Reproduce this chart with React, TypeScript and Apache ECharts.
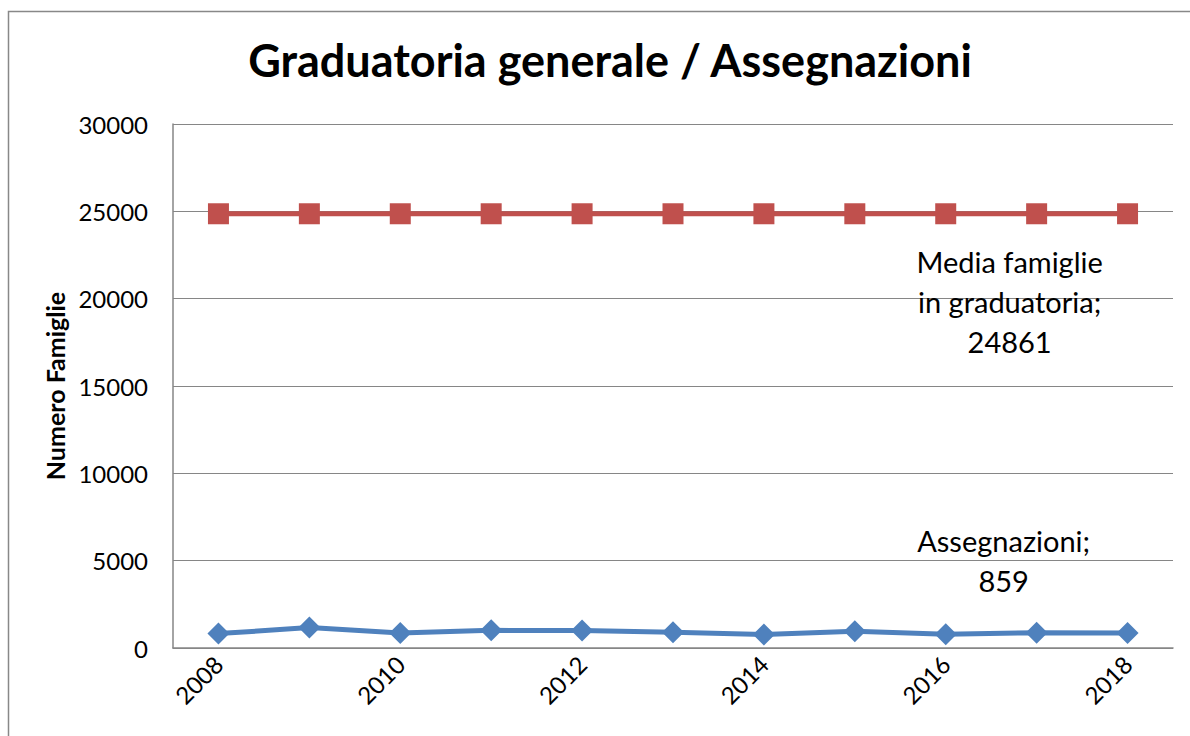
import React, { useEffect, useRef } from "react";
import * as echarts from "echarts";

const years = ["2008", "2009", "2010", "2011", "2012", "2013", "2014", "2015", "2016", "2017", "2018"];
const mediaGraduatoria = [24861, 24861, 24861, 24861, 24861, 24861, 24861, 24861, 24861, 24861, 24861];
const assegnazioni = [824, 1167, 858, 1012, 995, 906, 766, 955, 784, 880, 859];
const yTicks = { min: 0, max: 30000, interval: 5000 };

const FONT = "Lato";

export default function App() {
  const ref = useRef<HTMLDivElement>(null);
  useEffect(() => {
    const chart = echarts.init(ref.current!, null, { renderer: "svg" });
    const redData = mediaGraduatoria.map((v, i) =>
      i === 9
        ? {
            value: v,
            label: {
              show: true,
              position: "inside",
              offset: [-27, 88],
              formatter: (p: any) => "Media famiglie\nin graduatoria;\n" + p.value,
              fontFamily: FONT,
              fontSize: 29,
              lineHeight: 40,
              color: "#000",
              align: "center",
            },
          }
        : v
    );
    const blueData = assegnazioni.map((v, i) =>
      i === 9
        ? {
            value: v,
            label: {
              show: true,
              position: "inside",
              offset: [-33, -72],
              formatter: () => "Assegnazioni;\n" + assegnazioni[10],
              fontFamily: FONT,
              fontSize: 29,
              lineHeight: 40,
              color: "#000",
              align: "center",
            },
          }
        : v
    );
    chart.setOption({
      animation: false,
      backgroundColor: "#fff",
      title: {
        text: "Graduatoria generale / Assegnazioni",
        left: 605,
        textAlign: "center",
        top: 32,
        textStyle: { fontFamily: FONT, fontSize: 45, fontWeight: "bold", color: "#000" },
      },
      graphic: [
        {
          type: "rect",
          shape: { x: 8.5, y: 11.5, width: 1300, height: 900 },
          style: { fill: "none", stroke: "#888", lineWidth: 1.5 },
          silent: true,
        },
      ],
      grid: { left: 173, right: 17, top: 124, bottom: 88 },
      xAxis: {
        type: "category",
        data: years,
        boundaryGap: true,
        axisLine: { lineStyle: { color: "#868686", width: 1.5 } },
        axisTick: { show: false },
        axisLabel: {
          interval: 1,
          rotate: 45,
          margin: 12,
          fontFamily: FONT,
          fontSize: 24,
          color: "#000",
        },
      },
      yAxis: {
        type: "value",
        min: yTicks.min,
        max: yTicks.max,
        interval: yTicks.interval,
        name: "Numero Famiglie",
        nameLocation: "middle",
        nameGap: 98,
        nameTextStyle: { fontFamily: FONT, fontSize: 25, fontWeight: "bold", color: "#000" },
        axisLine: { show: true, lineStyle: { color: "#868686", width: 1.5 } },
        axisTick: { show: false },
        splitLine: { lineStyle: { color: "#868686", width: 1 } },
        axisLabel: {
          margin: 25,
          fontFamily: FONT,
          fontSize: 24,
          color: "#000",
          formatter: (v: number) => String(v),
        },
      },
      series: [
        {
          name: "Media famiglie in graduatoria",
          type: "line",
          data: redData,
          symbol: "rect",
          symbolSize: 21,
          lineStyle: { color: "#C0504D", width: 5 },
          itemStyle: { color: "#C0504D" },
          z: 3,
        },
        {
          name: "Assegnazioni",
          type: "line",
          data: blueData,
          symbol: "diamond",
          symbolSize: [22, 22],
          lineStyle: { color: "#4F81BD", width: 5 },
          itemStyle: { color: "#4F81BD" },
          z: 3,
        },
      ],
    });
    return () => chart.dispose();
  }, []);
  return (
    <div
      ref={ref}
      style={{ position: "fixed", left: 0, top: 0, width: 1190, height: 736, background: "#fff" }}
    />
  );
}
